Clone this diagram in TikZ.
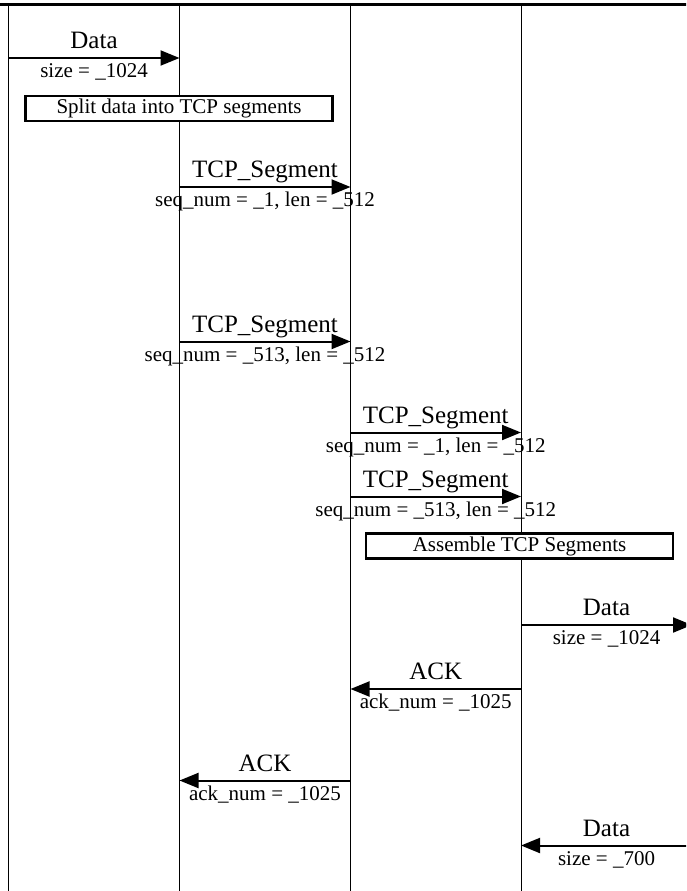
\documentclass[tikz,border=0pt]{standalone}
\usepackage{fontspec}
\setmainfont{Liberation Serif}
\usepackage{tikz}
\usetikzlibrary{arrows.meta}
\tikzset{
  msg/.style={line width=2pt, -{Triangle[length=19pt,width=15pt]}},
  biglab/.style={font=\fontsize{25}{30}\selectfont, anchor=base, inner sep=0pt, yshift=9.5pt},
  sublab/.style={font=\fontsize{21}{25}\selectfont, anchor=base, inner sep=0pt, yshift=-19.5pt},
  actbox/.style={draw, fill=white, line width=2.2pt, minimum width=307pt, minimum height=25pt, inner sep=0pt, font=\fontsize{21}{25}\selectfont}
}

\begin{document}
\begin{tikzpicture}[x=1pt, y=-1pt]
\useasboundingbox (0,0) rectangle (686,891);
\clip (0,0) rectangle (686,891);
\draw[line width=3pt] (-10,4.7) -- (700,4.7);
\foreach \n/\x in {la/8.5, lb/179.5, lc/350.5, ld/521, le/692} {
  \coordinate (\n) at (\x,4.7);
  \draw[line width=0.9pt] (\n) -- ++(0,900);
}
% sender side
\coordinate (d1a) at (la |- 0,58);
\coordinate (d1b) at (lb |- 0,58);
\draw[msg] (d1a) -- (d1b) node[midway, biglab] (d1t) {Data} node[midway, sublab] (d1s) {size = \_1024};
\node[actbox] (split) at (179,108.5) {Split data into TCP segments};
\coordinate (s1a) at (lb |- 0,187);
\coordinate (s1b) at (lc |- 0,187);
\draw[msg] (s1a) -- (s1b) node[midway, biglab] (s1t) {TCP\_Segment} node[midway, sublab] (s1s) {seq\_num = \_1, len = \_512};
\coordinate (s2a) at (lb |- 0,341.5);
\coordinate (s2b) at (lc |- 0,341.5);
\draw[msg] (s2a) -- (s2b) node[midway, biglab] (s2t) {TCP\_Segment} node[midway, sublab] (s2s) {seq\_num = \_513, len = \_512};
% network to receiver
\coordinate (s3a) at (lc |- 0,432.5);
\coordinate (s3b) at (ld |- 0,432.5);
\draw[msg] (s3a) -- (s3b) node[midway, biglab] (s3t) {TCP\_Segment} node[midway, sublab] (s3s) {seq\_num = \_1, len = \_512};
\coordinate (s4a) at (lc |- 0,496.5);
\coordinate (s4b) at (ld |- 0,496.5);
\draw[msg] (s4a) -- (s4b) node[midway, biglab] (s4t) {TCP\_Segment} node[midway, sublab] (s4s) {seq\_num = \_513, len = \_512};
\node[actbox] (assemble) at (519.5,546) {Assemble TCP Segments};
% receiver side
\coordinate (d2a) at (ld |- 0,625);
\coordinate (d2b) at (le |- 0,625);
\draw[msg] (d2a) -- (d2b) node[midway, biglab] (d2t) {Data} node[midway, sublab] (d2s) {size = \_1024};
\coordinate (k1a) at (ld |- 0,689);
\coordinate (k1b) at (lc |- 0,689);
\draw[msg] (k1a) -- (k1b) node[midway, biglab] (k1t) {ACK} node[midway, sublab] (k1s) {ack\_num = \_1025};
\coordinate (k2a) at (lc |- 0,780.5);
\coordinate (k2b) at (lb |- 0,780.5);
\draw[msg] (k2a) -- (k2b) node[midway, biglab] (k2t) {ACK} node[midway, sublab] (k2s) {ack\_num = \_1025};
\coordinate (d3a) at (le |- 0,845.5);
\coordinate (d3b) at (ld |- 0,845.5);
\draw[msg] (d3a) -- (d3b) node[midway, biglab] (d3t) {Data} node[midway, sublab] (d3s) {size = \_700};
\end{tikzpicture}
\end{document}
